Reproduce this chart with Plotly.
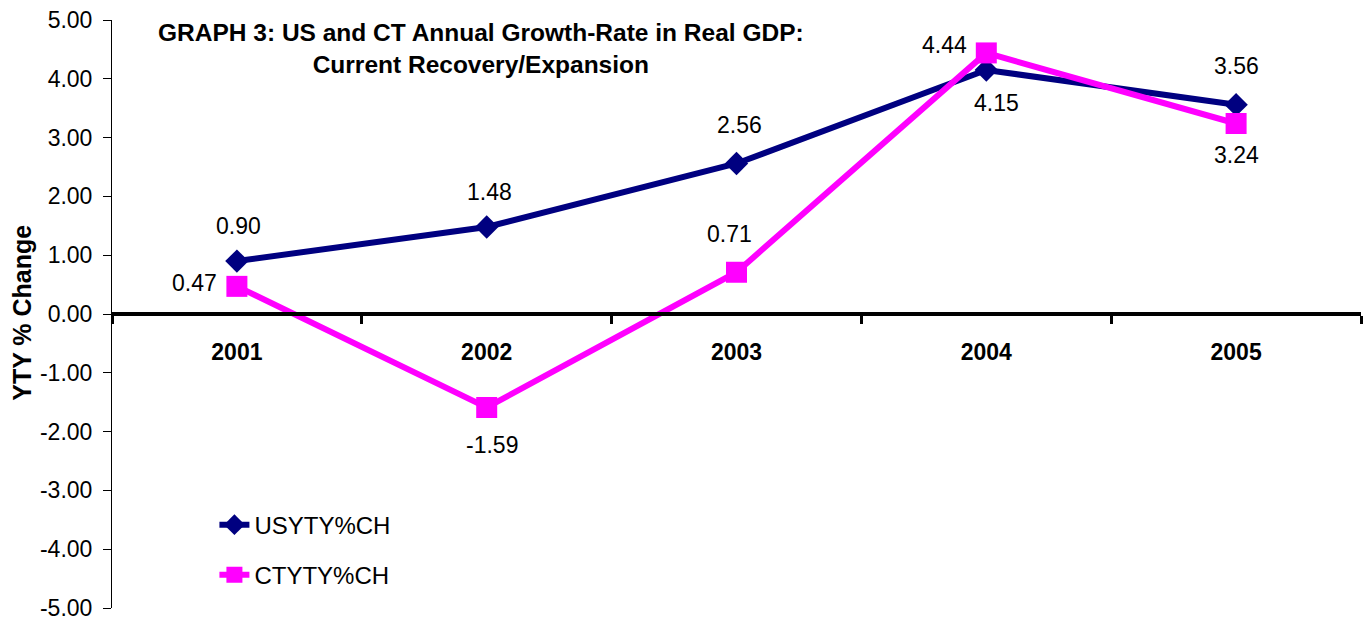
import plotly.graph_objects as go

# Annual data
years = ["2001", "2002", "2003", "2004", "2005"]
us_growth = [0.90, 1.48, 2.56, 4.15, 3.56]
ct_growth = [0.47, -1.59, 0.71, 4.44, 3.24]
y_ticks = [-5, -4, -3, -2, -1, 0, 1, 2, 3, 4, 5]
y_tick_labels = [f"{v:.2f}" for v in y_ticks]

NAVY = "#000080"
MAGENTA = "#FF00FF"
FONT = "Arial, Liberation Sans, sans-serif"

# Label placement (pixel shifts from each point)
us_label_shift = [(2, 35), (3, 35), (3, 38), (10, -33), (0, 39)]
ct_label_shift = [(-42, 3), (5, -38), (-7, 38), (-42, 8), (0, -32)]

fig = go.Figure()
fig.add_trace(go.Scatter(
    x=years, y=us_growth, name="USYTY%CH", mode="lines+markers",
    line=dict(color=NAVY, width=6),
    marker=dict(symbol="diamond", size=18, color=NAVY),
    legend="legend",
))
fig.add_trace(go.Scatter(
    x=years, y=ct_growth, name="CTYTY%CH", mode="lines+markers",
    line=dict(color=MAGENTA, width=6),
    marker=dict(symbol="square", size=21, color=MAGENTA),
    legend="legend2",
))

annotations = []
for vals, shifts in ((us_growth, us_label_shift), (ct_growth, ct_label_shift)):
    for i, (v, (dx, dy)) in enumerate(zip(vals, shifts)):
        # category index positions the label on its year
        annotations.append(dict(
            x=i, y=v, xref="x", yref="y", text=f"{v:.2f}", showarrow=False,
            xshift=dx, yshift=dy, font=dict(family=FONT, size=23, color="black"),
        ))

annotations.append(dict(
    text="<b>GRAPH 3: US and CT Annual Growth-Rate in Real GDP:<br>Current Recovery/Expansion</b>",
    xref="paper", yref="paper", x=0.2955, y=1.0, yanchor="top", xanchor="center",
    yshift=3, showarrow=False, align="center",
    font=dict(family=FONT, size=24.5, color="black"),
))
annotations.append(dict(
    text="<b>YTY % Change</b>", xref="paper", yref="paper",
    x=-0.0721, y=0.502, textangle=-90, showarrow=False,
    xanchor="center", yanchor="middle",
    font=dict(family=FONT, size=25, color="black"),
))

legend_style = dict(
    xanchor="left", yanchor="middle", bgcolor="rgba(0,0,0,0)",
    font=dict(family=FONT, size=24, color="black"), borderwidth=0,
)

fig.update_layout(
    width=1366, height=618,
    margin=dict(l=112, r=5, t=20, b=10),
    paper_bgcolor="white", plot_bgcolor="white",
    showlegend=True,
    legend=dict(x=0.082, y=0.141, **legend_style),
    legend2=dict(x=0.082, y=0.056, **legend_style),
    annotations=annotations,
    xaxis=dict(
        type="category", range=[-0.5, 4.5],
        anchor="free", position=0.5, automargin=False,
        showline=True, linecolor="black", linewidth=4,
        ticks="outside", tickson="boundaries", ticklen=8, tickwidth=3,
        tickcolor="black", showgrid=False, zeroline=False,
        tickfont=dict(family=FONT, size=23, color="black", weight="bold"),
        ticklabelstandoff=16,
    ),
    yaxis=dict(
        range=[-5, 5], tickvals=y_ticks, ticktext=y_tick_labels,
        automargin=False,
        showline=True, linecolor="black", linewidth=1,
        ticks="outside", ticklen=8, tickwidth=1, tickcolor="black",
        showgrid=False, zeroline=False,
        tickfont=dict(family=FONT, size=23, color="black"),
        ticklabelstandoff=6, ticklabeloverflow="allow",
    ),
)

fig.write_html("out.html")
